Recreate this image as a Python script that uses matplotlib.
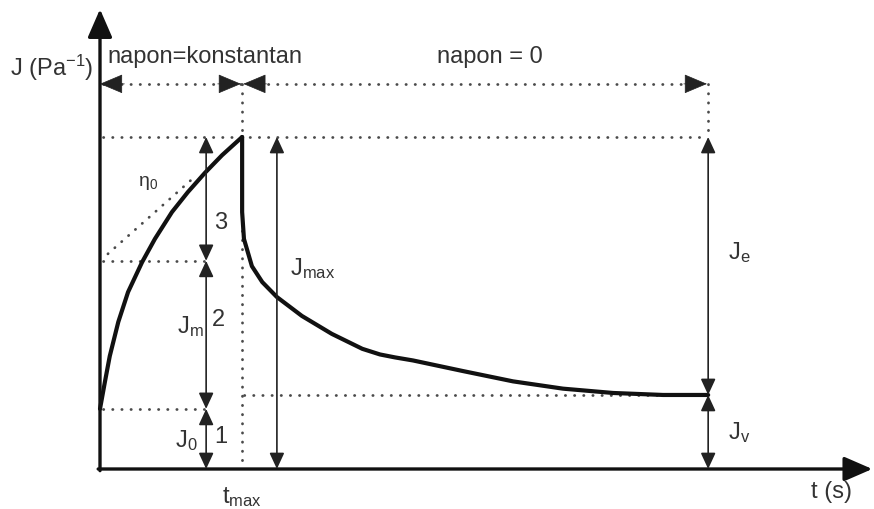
import numpy as np
import matplotlib
matplotlib.use('Agg')
import matplotlib.pyplot as plt

plt.rcParams['font.family'] = ['Liberation Sans', 'DejaVu Sans']
plt.rcParams['mathtext.fontset'] = 'custom'
plt.rcParams['mathtext.rm'] = 'Liberation Sans'
plt.rcParams['mathtext.it'] = 'Liberation Sans:italic'

# creep phase (napon = konstantan)
t_creep = [0.0, 0.08, 0.16, 0.30, 0.46, 0.69, 0.90, 1.18, 1.44, 1.72, 2.00, 2.30, 2.33]
J_creep = [1.81, 2.62, 3.40, 4.43, 5.33, 6.23, 6.93, 7.74, 8.34, 8.92, 9.45, 9.95, 10.0]

# recovery phase (napon = 0)
t_rec = [2.33, 2.33, 2.36, 2.49, 2.66, 2.90, 3.31, 3.80, 4.30, 4.59, 4.84, 5.13,
         5.95, 6.77, 7.59, 8.41, 9.23, 9.97]
J_rec = [10.0, 7.74, 6.93, 6.11, 5.63, 5.18, 4.61, 4.07, 3.62, 3.45, 3.36, 3.27,
         2.95, 2.64, 2.42, 2.29, 2.23, 2.23]

# tangent (eta_0)
t_tan = [0.13, 1.51]
J_tan = [6.48, 8.73]

J0 = 1.81
J0m = 6.27
Jmax = 10.0
Jv = 2.23
t_max = 2.33
t_end = 9.97
J_top = 11.6

fig = plt.figure(figsize=(8.74, 5.1), dpi=100)
ax = fig.add_axes([0, 0, 1, 1])
ax.set_xlim(-100 / 61, 774 / 61)
ax.set_ylim(-40 / 33.2, 470 / 33.2)
ax.axis('off')

dot = dict(color='#4a4a4a', lw=2.0, linestyle=(0, (0.1, 3.2)), dash_capstyle='round')
txt = dict(color='#333333', fontsize=17)


def arrow(x0, y0, x1, y1, style, hl, hw, lw=1.2, color='#222222'):
    ax.annotate('', xy=(x1, y1), xytext=(x0, y0),
                arrowprops=dict(arrowstyle='%s,head_length=%s,head_width=%s' % (style, hl, hw),
                                lw=lw, color=color, shrinkA=0, shrinkB=0,
                                mutation_scale=15))


# main axes
arrow(0, -0.05, 0, 13.85, '-|>', 1.15, 0.5, lw=2.4, color='#111111')
arrow(-0.03, 0, 12.66, 0, '-|>', 1.15, 0.5, lw=2.4, color='#111111')

# dotted guide lines
ax.plot([0.05, t_end], [J_top, J_top], **dot)
ax.plot([t_max, t_max], [J_top, 0], **dot)
ax.plot([t_end, t_end], [J_top, Jmax], **dot)
ax.plot([0.05, t_end], [Jmax, Jmax], **dot)
ax.plot([0.05, 1.70], [J0m, J0m], **dot)
ax.plot([0.05, 1.70], [J0, J0], **dot)
ax.plot([t_max + 0.03, t_end], [Jv, Jv], **dot)
ax.plot(t_tan, J_tan, **dot)

# arrow heads on the top dotted line
arrow(0.4, J_top, 0.0, J_top, '-|>', 1.0, 0.42, lw=0.5)
arrow(t_max - 0.4, J_top, t_max - 0.02, J_top, '-|>', 1.0, 0.42, lw=0.5)
arrow(t_max + 0.4, J_top, t_max + 0.02, J_top, '-|>', 1.0, 0.42, lw=0.5)
arrow(t_end - 0.4, J_top, t_end - 0.02, J_top, '-|>', 1.0, 0.42, lw=0.5)

# dimension arrows
x_dim = 1.74
arrow(x_dim, 0, x_dim, J0, '<|-|>', 0.65, 0.3)
arrow(x_dim, J0, x_dim, J0m, '<|-|>', 0.65, 0.3)
arrow(x_dim, J0m, x_dim, Jmax, '<|-|>', 0.65, 0.3)
arrow(2.90, 0, 2.90, Jmax, '<|-|>', 0.65, 0.3)
arrow(t_end, Jv, t_end, Jmax, '<|-|>', 0.65, 0.3)
arrow(t_end, 0, t_end, Jv, '<|-|>', 0.65, 0.3)

# curve
ax.plot(t_creep, J_creep, color='#111111', lw=3.0, solid_joinstyle='round', solid_capstyle='round')
ax.plot(t_rec, J_rec, color='#111111', lw=3.0, solid_joinstyle='round', solid_capstyle='round')

# texts
ax.text(-1.475, 12.11, r'J (Pa$^{\mathrm{-1}}$)', ha='left', va='center', **txt)
ax.text(0.115, 12.44, 'napon=konstantan', ha='left', va='center', **txt)
ax.text(6.39, 12.44, 'napon = 0', ha='center', va='center', **txt)
ax.text(12.33, -0.66, 't (s)', ha='right', va='center', **txt)
ax.text(t_max, -0.82, r't$_{\mathrm{max}}$', ha='center', va='center', **txt)
ax.text(1.41, 0.90, r'J$_{\mathrm{0}}$', ha='center', va='center', **txt)
ax.text(1.98, 0.99, '1', ha='center', va='center', **txt)
ax.text(1.48, 4.31, r'J$_{\mathrm{m}}$', ha='center', va='center', **txt)
ax.text(1.94, 4.52, '2', ha='center', va='center', **txt)
ax.text(1.97, 7.44, '3', ha='center', va='center', **txt)
ax.text(0.79, 8.64, r'η$_{\mathrm{0}}$', ha='center', va='center', color='#333333', fontsize=14)
ax.text(3.11, 6.08, r'J$_{\mathrm{max}}$', ha='left', va='center', **txt)
ax.text(10.30, 6.54, r'J$_{\mathrm{e}}$', ha='left', va='center', **txt)
ax.text(10.30, 1.14, r'J$_{\mathrm{v}}$', ha='left', va='center', **txt)

fig.savefig('out.png', dpi=100)
